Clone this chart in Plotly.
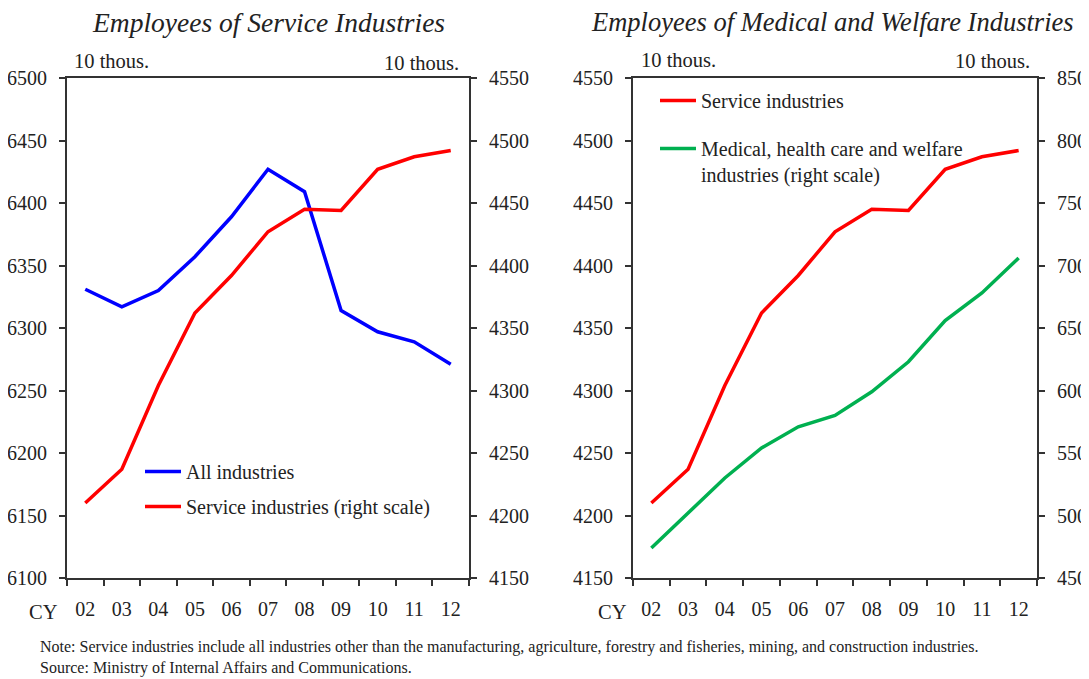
import plotly.graph_objects as go
from plotly.subplots import make_subplots

years = ["02", "03", "04", "05", "06", "07", "08", "09", "10", "11", "12"]
all_industries = [6331, 6317, 6330, 6357, 6389, 6427, 6409, 6314, 6297, 6289, 6271]
service_industries = [4210, 4237, 4304, 4362, 4392, 4427, 4445, 4444, 4477, 4487, 4492]
medical_welfare = [474, 502, 530, 554, 571, 580, 599, 623, 656, 678, 706]

# the page puts the plot 8px in from the top-left, so work in window pixels
OFF = 8
W, H = 1089 - OFF, 679 - OFF
serif = "Liberation Serif"
ink = "#222222"


def px_x(p):
    return (p - OFF) / W


def px_y(p):
    return 1 - (p - OFF) / H


fig = make_subplots(rows=1, cols=2, specs=[[{"secondary_y": True}, {"secondary_y": True}]])

# left panel: all industries (left scale) vs service industries (right scale)
fig.add_trace(go.Scatter(x=years, y=all_industries, mode="lines", name="All industries",
                         line=dict(color="#0000FF", width=3.5), legend="legend", legendgroup="a"),
              row=1, col=1, secondary_y=False)
fig.add_trace(go.Scatter(x=years, y=service_industries, mode="lines", name="Service industries (right scale)",
                         line=dict(color="#FF0000", width=3.5), legend="legend", legendgroup="b"),
              row=1, col=1, secondary_y=True)

# right panel: service industries (left scale) vs medical & welfare (right scale)
fig.add_trace(go.Scatter(x=years, y=service_industries, mode="lines", name="Service industries",
                         line=dict(color="#FF0000", width=3.5), legend="legend2", legendgroup="c"),
              row=1, col=2, secondary_y=False)
fig.add_trace(go.Scatter(x=years, y=medical_welfare, mode="lines",
                         name="Medical, health care and welfare<br>industries (right scale)",
                         line=dict(color="#00B050", width=3.5), legend="legend2", legendgroup="d"),
              row=1, col=2, secondary_y=True)

y_dom = [px_y(578), px_y(78)]
fig.update_layout(
    width=W, height=H,
    margin=dict(l=0, r=0, t=0, b=0, autoexpand=False),
    plot_bgcolor="white", paper_bgcolor="white",
    font=dict(family=serif, size=20, color=ink),
    xaxis=dict(domain=[px_x(67), px_x(469)]),
    xaxis2=dict(domain=[px_x(633), px_x(1037)]),
    yaxis=dict(domain=y_dom, range=[6100, 6500], dtick=50),
    yaxis2=dict(range=[4150, 4550], dtick=50),
    yaxis3=dict(domain=y_dom, range=[4150, 4550], dtick=50),
    yaxis4=dict(range=[450, 850], dtick=50),
    legend=dict(x=px_x(140), y=px_y(452), xanchor="left", yanchor="top", valign="top",
                bgcolor="rgba(0,0,0,0)", font=dict(size=20), tracegroupgap=6, itemwidth=36),
    legend2=dict(x=px_x(655), y=px_y(81), xanchor="left", yanchor="top", valign="top",
                 bgcolor="rgba(0,0,0,0)", font=dict(size=20), tracegroupgap=19, itemwidth=36),
)

fig.update_xaxes(type="category", range=[-0.5, 10.5], tickson="boundaries",
                 ticks="outside", ticklen=6, tickcolor="#333", tickwidth=1.5,
                 showline=True, linecolor="#333", linewidth=2, mirror=True,
                 showgrid=False, zeroline=False, ticklabelstandoff=12, automargin=False,
                 tickfont=dict(family=serif, size=20, color=ink))
fig.update_yaxes(ticks="outside", ticklen=6, tickcolor="#333", tickwidth=1.5,
                 showline=True, linecolor="#333", linewidth=2, automargin=False,
                 showgrid=False, zeroline=False, ticklabelstandoff=8,
                 tickfont=dict(family=serif, size=20, color=ink))

notes = [
    (268, 22, "<i>Employees of Service Industries</i>", 27.5),
    (832, 22, "<i>Employees of Medical and Welfare Industries</i>", 26.5),
    (111, 61, "10 thous.", 20.5),
    (421, 63, "10 thous.", 20.5),
    (678, 60, "10 thous.", 20.5),
    (992, 61, "10 thous.", 20.5),
    (43, 612, "CY", 20.5),
    (612, 612, "CY", 20.5),
]
for x, y, text, size in notes:
    fig.add_annotation(x=px_x(x), y=px_y(y), xref="paper", yref="paper", text=text,
                       showarrow=False, xanchor="center", yanchor="middle",
                       font=dict(family=serif, size=size, color=ink))

fig.add_annotation(x=px_x(38), y=px_y(657), xref="paper", yref="paper", showarrow=False,
                   xanchor="left", yanchor="middle", align="left",
                   text="Note: Service industries include all industries other than the manufacturing, agriculture, "
                        "forestry and fisheries, mining, and construction industries.<br>"
                        "Source: Ministry of Internal Affairs and Communications.",
                   font=dict(family=serif, size=16, color=ink))

fig.write_html("out.html")
